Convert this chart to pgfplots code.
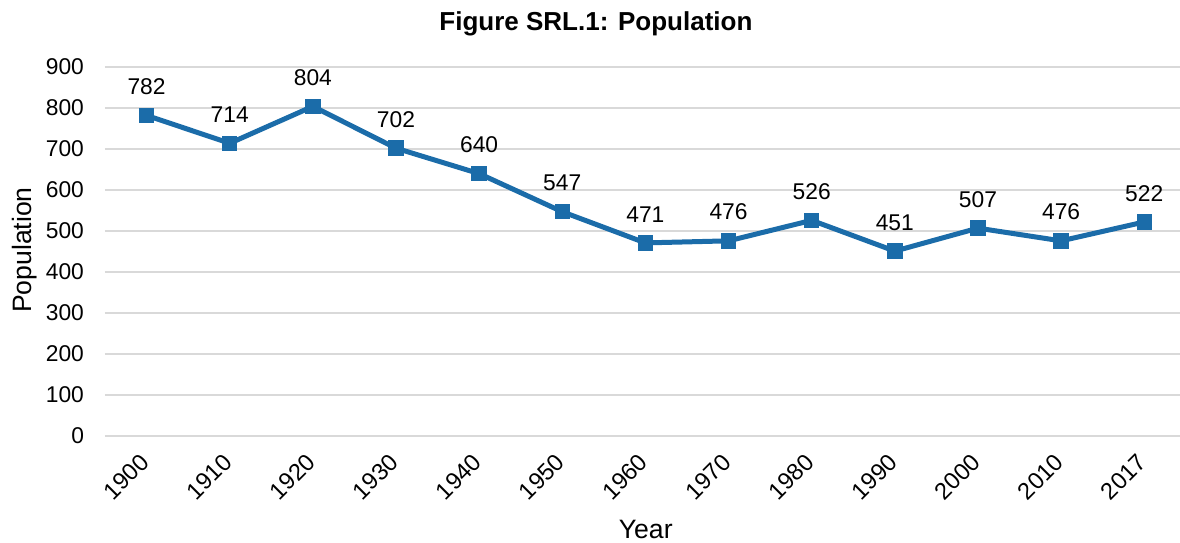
\documentclass[border=0pt]{standalone}
\usepackage{fontspec}
\setmainfont{Liberation Sans}
\usepackage{pgfplots}
\pgfplotsset{compat=1.18}
\definecolor{lineblue}{HTML}{1B6CA9}
\definecolor{gridgray}{HTML}{D9D9D9}
\begin{document}
\begin{tikzpicture}
\begin{axis}[
    at={(0pt,0pt)}, anchor=south west,
    scale only axis,
    width=537.5pt, height=184.5pt,
    xmin=-0.5, xmax=12.43,
    ymin=0, ymax=900,
    ytick={0,100,...,900},
    xtick={0,...,12},
    xticklabels={1900,1910,1920,1930,1940,1950,1960,1970,1980,1990,2000,2010,2017},
    axis line style={draw=none},
    major tick length=0pt,
    ymajorgrids=true,
    grid style={gridgray, line width=1pt},
    /pgf/number format/assume math mode=true,
    /pgf/number format/1000 sep={},
    tick label style={font=\fontsize{11.4}{13}\selectfont},
    yticklabel style={xshift=-7pt},
    xticklabel style={xshift=1.5pt, yshift=-8.7pt, rotate=45, anchor=east,
        font=\fontsize{11.8}{13}\selectfont},
    title={Figure SRL.1: Population},
    title style={at={(axis description cs:0.4567,1.084)}, anchor=center, yshift=0pt,
        font=\bfseries\fontsize{13}{15}\selectfont},
    xlabel={Year},
    xlabel style={at={(axis description cs:0.503,-0.2547)}, anchor=center,
        font=\fontsize{13.3}{15}\selectfont},
    ylabel={Population},
    ylabel style={at={(axis description cs:-0.0744,0.504)}, anchor=center,
        font=\fontsize{13.3}{15}\selectfont},
    nodes near coords,
    every node near coord/.append style={anchor=south, yshift=7pt,
        font=\fontsize{11.4}{13}\selectfont, text=black},
    clip=false,
]
\addplot[color=lineblue, line width=2.5pt, mark=square*,
    mark size=3.6pt, mark options={fill=lineblue, draw=lineblue, line width=0pt}]
coordinates {
    (0,782)(1,714)(2,804)(3,702)(4,640)(5,547)(6,471)
    (7,476)(8,526)(9,451)(10,507)(11,476)(12,522)
};
\end{axis}
\pgfresetboundingbox
\useasboundingbox (-52.5pt,-53pt) rectangle (537.5pt,218pt);
\end{tikzpicture}
\end{document}
